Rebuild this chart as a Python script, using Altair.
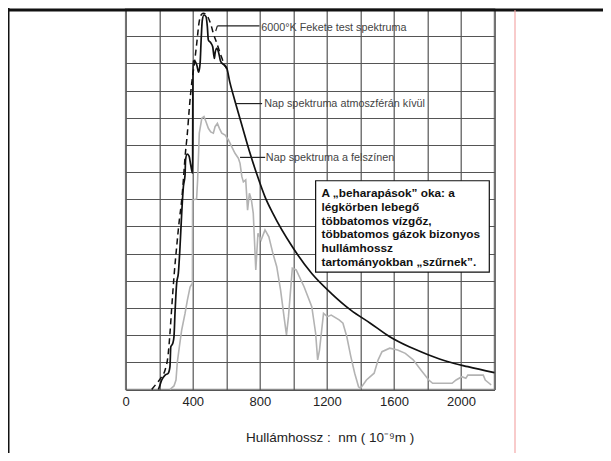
import altair as alt
import pandas as pd

# ---- data (x: wavelength nm, y: relative intensity, grid units 0..14)
bb_nm = [155, 185, 215, 235, 254, 264, 275, 288, 304, 320, 334, 344, 354, 368, 380, 394, 410, 424, 438, 450,
         463, 479, 493, 509, 523, 543, 567, 587, 602]
bb_val = [0, 0.23, 0.47, 0.72, 1.33, 2.07, 3.05, 4.15, 5.25, 6.24, 6.97, 7.71, 8.55, 9.44, 10.39, 11.28, 12.01,
          12.75, 13.52, 13.78, 13.84, 13.80, 13.67, 13.41, 13.10, 12.75, 12.31, 11.98, 11.81]

sun_nm = [195, 201, 215, 235, 254, 264, 269, 281, 288, 294, 304, 314, 324, 334, 344, 354, 357, 366, 378, 388,
          399, 401, 410, 424, 435, 444, 450, 457, 467, 479, 487, 493, 507, 519, 529, 533, 543, 553, 567, 587,
          603, 621, 645, 691, 738, 784, 831, 878, 994, 1110, 1226, 1343, 1459, 1575, 1691, 1808, 1924, 2041, 2200]
sun_val = [0, 0.10, 0.35, 0.53, 0.60, 0.84, 1.57, 1.70, 1.94, 2.80, 3.91, 4.27, 5.25, 6.48, 7.46, 7.89, 8.44,
           8.66, 8.59, 8.26, 7.96, 12.08, 12.08, 11.94, 11.68, 12.01, 12.86, 13.59, 13.78, 13.72, 13.35, 12.86,
           12.76, 12.61, 12.18, 12.37, 12.55, 12.43, 12.06, 11.94, 11.82, 11.31, 10.76, 9.77, 8.77, 7.89, 7.09,
           6.48, 5.25, 4.27, 3.54, 2.92, 2.44, 1.94, 1.57, 1.27, 1.02, 0.84, 0.62]

gr_nm = [264, 288, 300, 308, 320, 334, 354, 368, 384, 398, 399, 423, 429, 439, 454, 467, 479, 493, 507, 523,
         533, 547, 559, 573, 593, 613, 633, 652, 672, 682, 693, 702, 716, 727, 738, 750, 761, 776, 789, 808,
         831, 854, 878, 901, 924, 947, 959, 971, 994, 1017, 1064, 1110, 1133, 1145, 1156, 1180, 1203, 1226,
         1273, 1296, 1319, 1343, 1366, 1389, 1401, 1436, 1482, 1506, 1529, 1575, 1622, 1668, 1715, 1761, 1808,
         1831, 1947, 1971, 2005, 2029, 2041, 2087, 2133, 2145, 2168, 2180]
gr_val = [0, 0.13, 0.35, 1.01, 1.57, 2.19, 2.80, 3.29, 3.77, 3.91, 6.97, 7.01, 7.71, 9.43, 9.98, 10.04, 9.85,
          9.61, 9.48, 9.43, 9.67, 9.79, 9.61, 9.43, 9.36, 9.18, 8.93, 8.69, 8.51, 8.32, 7.83, 7.64, 7.71, 6.60,
          7.22, 6.97, 6.48, 4.40, 5.75, 5.50, 5.87, 5.62, 5.01, 4.52, 3.66, 2.56, 2.01, 2.68, 4.46, 4.40, 3.78,
          3.05, 2.07, 1.09, 1.45, 2.80, 2.68, 2.74, 2.56, 2.44, 1.94, 1.21, 0.60, 0.10, 0.04, 0.35, 0.60, 1.09,
          1.39, 1.52, 1.45, 1.33, 1.09, 0.72, 0.35, 0.23, 0.23, 0.35, 0.47, 0.41, 0.53, 0.53, 0.53, 0.35, 0.23,
          0.17]

grid_x = list(range(0, 2201, 200))
grid_y = list(range(0, 15))

label_text = ["6000°K Fekete test spektruma", "Nap spektruma atmoszférán kívül", "Nap spektruma a felszínen"]
label_nm = [808, 826, 836]
label_val = [13.31, 10.50, 8.52]
leader_nm = [547, 652, 682]
leader_nm2 = [798, 814, 832]
leader_val = [13.38, 10.52, 8.54]

box_lines = ["A \u201ebeharapások\u201d oka: a", "légkörben lebegő", "többatomos vízgőz,",
             "többatomos gázok bizonyos", "hullámhossz", "tartományokban \u201eszűrnek\u201d."]
box_nm, box_nm2 = 1133, 2169
box_val, box_val2 = 4.32, 7.68
box_text_nm, box_text_val = 1168, 7.23

x_title = "Hullámhossz :\u00a0 nm ( 10\u207b\u2079m )"

FONT = "Liberation Sans"

xs = alt.Scale(domain=[0, 2200], nice=False, zero=False)
ys = alt.Scale(domain=[0, 14], nice=False, zero=False)
x_axis = alt.Axis(values=grid_x, grid=True, ticks=False, domain=False, format="d",
                  labelExpr="(datum.value % 400 == 0 && datum.value < 2200) ? datum.label : ''",
                  labelFont=FONT, labelFontSize=13, labelColor="#222", labelBaseline="middle",
                  labelPadding=12, title=x_title, titleFont=FONT, titleFontSize=13.5,
                  titleFontWeight="normal", titleColor="#222", titleX=204, titleY=47.5,
                  titleAlign="center", titleBaseline="middle", labelFlush=False, labelOverlap=False)
y_axis = alt.Axis(values=grid_y, grid=True, ticks=False, domain=False, labels=False, title=None)

X = alt.X("nm:Q", scale=xs, axis=x_axis)
Y = alt.Y("v:Q", scale=ys, axis=y_axis)


def frame(xs_, vs_):
    return pd.DataFrame({"nm": xs_, "v": vs_, "i": list(range(len(xs_)))})


ground = alt.Chart(frame(gr_nm, gr_val)).mark_line(color="#b3b3b3", strokeWidth=1.6).encode(
    x=X, y=Y, order="i:Q")
outside = alt.Chart(frame(sun_nm, sun_val)).mark_line(
    color="#111", strokeWidth=1.7, interpolate="monotone").encode(x=X, y=Y, order="i:Q")
blackbody = alt.Chart(frame(bb_nm, bb_val)).mark_line(
    color="#111", strokeWidth=1.5, strokeDash=[6, 4], interpolate="monotone").encode(x=X, y=Y, order="i:Q")

leaders_df = pd.DataFrame({"nm": leader_nm, "nm2": leader_nm2, "v": leader_val})
leaders = alt.Chart(leaders_df).mark_rule(color="#222", strokeWidth=1.2).encode(
    x=X, x2="nm2:Q", y=Y)
hook = alt.Chart(pd.DataFrame({"nm": [537], "nm2": [547], "v": [13.19], "v2": [13.38]})).mark_rule(
    color="#222", strokeWidth=1.2).encode(x=X, x2="nm2:Q", y=Y, y2="v2:Q")

labels = alt.Chart(pd.DataFrame({"nm": label_nm, "v": label_val, "t": label_text})).mark_text(
    align="left", baseline="middle", font=FONT, fontSize=10.8, color="#444").encode(x=X, y=Y, text="t:N")

box = alt.Chart(pd.DataFrame({"nm": [box_nm], "nm2": [box_nm2], "v": [box_val], "v2": [box_val2]})).mark_rect(
    fill="white", stroke="#111", strokeWidth=1.2).encode(x=X, x2="nm2:Q", y=Y, y2="v2:Q")
box_text = alt.Chart(pd.DataFrame({"nm": [box_text_nm], "v": [box_text_val], "t": [box_lines]})).mark_text(
    align="left", baseline="middle", font=FONT, fontSize=11.8, fontWeight="bold", color="#111",
    lineHeight=13.8).encode(x=X, y=Y, text="t")

one = pd.DataFrame({"a": [0]})
top_border = alt.Chart(one).mark_rule(color="#111", strokeWidth=3).encode(
    x=alt.value(-118), x2=alt.value(480), y=alt.value(1), y2=alt.value(1))
left_border = alt.Chart(one).mark_rect(color="#111").encode(
    x=alt.value(-118), x2=alt.value(-116.2), y=alt.value(-2), y2=alt.value(460))
red_line = alt.Chart(one).mark_rule(color="#f2a0a0", strokeWidth=1.1).encode(
    x=alt.value(389.3), y=alt.value(1), y2=alt.value(460))

chart = alt.layer(
    ground, outside, blackbody, leaders, hook, labels, box, box_text, top_border, left_border, red_line
).properties(
    width=368.8, height=380.5,
    autosize=alt.AutoSizeParams(type="none"),
    padding={"left": 117.7, "top": 1, "right": 108.5, "bottom": 63.5},
    background="white",
).configure_view(stroke="#8c8c8c", strokeWidth=1.6).configure_axis(
    gridColor="#555555", gridWidth=1.2, gridOpacity=1)

chart.save("out.html", embed_options={"renderer": "svg", "actions": False})
